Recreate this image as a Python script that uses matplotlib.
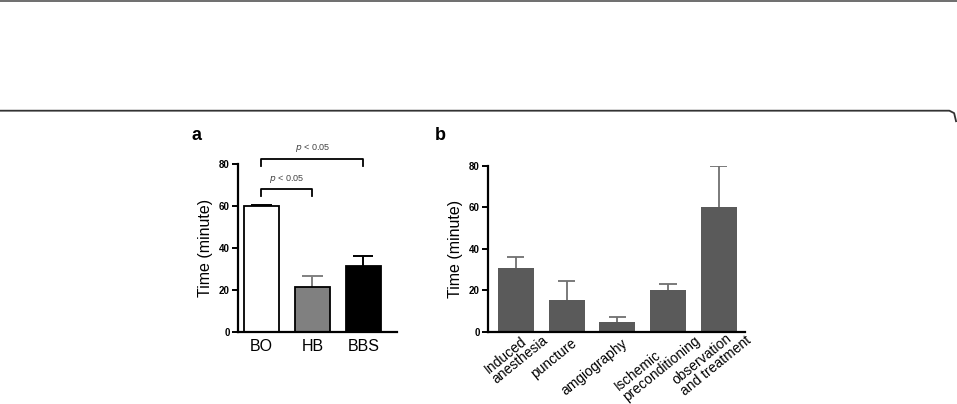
import matplotlib
matplotlib.use("Agg")
from matplotlib import pyplot as plt
from matplotlib.lines import Line2D
import matplotlib.transforms as mtrans

plt.rcParams['font.family'] = ['Liberation Sans', 'DejaVu Sans']

# panel a data
groups_a = ["BO", "HB", "BBS"]
means_a = [60, 21.5, 31.5]
errs_a = [0.5, 5, 4.5]

# panel b data
steps_b = ["Induced\nanesthesia", "puncture", "amgiography",
           "Ischemic\npreconditioning", "observation\nand treatment"]
means_b = [31, 15.5, 5, 20, 60]
errs_b = [5, 9, 2, 3, 20]

yticks = [0, 20, 40, 60, 80]

fig = plt.figure(figsize=(9.57, 4.04), dpi=100)
fig.patch.set_facecolor("white")

# frame lines of the page
fig.add_artist(Line2D([0, 1], [0.998, 0.998], color="#555555", lw=1.2))
fig.add_artist(Line2D([0.0, 0.992, 0.997, 0.999], [0.726, 0.726, 0.72, 0.70],
                      color="#333333", lw=1.3))


def style_axes(ax):
    for s in ["top", "right"]:
        ax.spines[s].set_visible(False)
    for s in ["left", "bottom"]:
        ax.spines[s].set_linewidth(1.6)
    ax.set_ylim(0, 80)
    ax.set_yticks(yticks)
    ax.tick_params(axis="y", width=1.4, length=4, labelsize=7, pad=2)
    for lab in ax.get_yticklabels():
        lab.set_fontweight("bold")
    ax.set_ylabel("Time (minute)", fontsize=11.5, labelpad=4)


def upper_err(ax, xs, means, errs, color, lw=1.4, half=0.17):
    tops = [m + e for m, e in zip(means, errs)]
    ax.vlines(xs, means, tops, color=color, lw=lw, zorder=1)
    ax.hlines(tops, [x - half for x in xs], [x + half for x in xs],
              color=color, lw=lw, zorder=1)


# ---- panel a ----
ax1 = fig.add_axes([0.2487, 0.1782, 0.166, 0.4158])
x_a = list(range(len(groups_a)))
face_a = ["white", "#808080", "black"]
ecol_a = ["black", "#808080", "black"]
for i in x_a:
    ax1.bar(i, means_a[i], width=0.69, color=face_a[i], edgecolor="black",
            linewidth=1.3, zorder=2)
    upper_err(ax1, [i], [means_a[i]], [errs_a[i]], ecol_a[i], half=0.2)
style_axes(ax1)
ax1.set_xlim(-0.46, 2.66)
ax1.set_xticks(x_a)
ax1.set_xticklabels(groups_a, fontsize=11.5)
ax1.tick_params(axis="x", length=0, pad=5)


# significance brackets
def bracket(ax, x0, x1, y, h, txt):
    ax.plot([x0, x0, x1, x1], [y - h, y, y, y - h], color="black", lw=1.3,
            clip_on=False)
    ax.text((x0 + x1) / 2, y + 2.2, txt, ha="center", va="bottom",
            fontsize=6.5, color="#444444")

bracket(ax1, 0, 1, 68, 3, "$p$ < 0.05")
bracket(ax1, 0, 2, 82.4, 3.4, "$p$ < 0.05")

fig.text(0.2, 0.665, "a", fontsize=13, fontweight="bold", va="center")

# ---- panel b ----
ax2 = fig.add_axes([0.5099, 0.1782, 0.2686, 0.411])
x_b = list(range(len(steps_b)))
ax2.bar(x_b, means_b, width=0.71, color="#5a5a5a", zorder=2)
upper_err(ax2, x_b, means_b, errs_b, "#707070", lw=1.3, half=0.17)
style_axes(ax2)
ax2.set_xlim(-0.55, 4.52)
ax2.set_xticks(x_b)
ax2.set_xticklabels(steps_b, fontsize=10, rotation=39, ha="right", va="center",
                    rotation_mode="anchor", linespacing=0.95,
                    multialignment="left")
ax2.tick_params(axis="x", length=0, pad=0)
for lab in ax2.get_xticklabels():
    nlines = lab.get_text().count("\n") + 1
    dx = (6 + 13 * (nlines - 1)) / 72.0
    dy = -(7 - 6 * (nlines - 1)) / 72.0
    off = mtrans.ScaledTranslation(dx, dy, fig.dpi_scale_trans)
    lab.set_transform(lab.get_transform() + off)

fig.text(0.4545, 0.665, "b", fontsize=13, fontweight="bold", va="center")

fig.savefig("out.png", dpi=100)
